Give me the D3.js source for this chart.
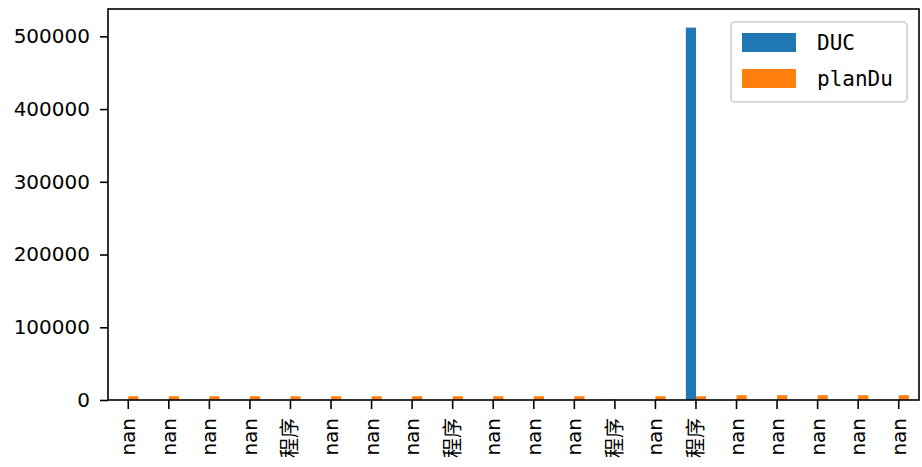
<!DOCTYPE html>
<html><head><meta charset="utf-8">
<script src="https://cdn.jsdelivr.net/npm/d3@7"></script>
<style>body{margin:0;background:#fff}svg{display:block}</style>
</head><body>
<svg id="c" width="922" height="467"></svg>
<script>
const categories = ["nan","nan","nan","nan","程序","nan","nan","nan","程序","nan","nan","nan","程序","nan","程序","nan","nan","nan","nan","nan"];
const ducValues = [null,null,null,null,null,null,null,null,null,null,null,null,600,null,512000,null,null,null,null,null];
const planDuValues = [5200,5200,5200,5200,5200,5200,5200,5200,5200,5200,5200,5200,null,5200,5200,6600,6600,6600,6600,6600];
const yTicks = [0,100000,200000,300000,400000,500000];
const seriesNames = ["DUC","planDu"];
const colors = ["#1f77b4","#ff7f0e"];

const svg = d3.select("#c");
const L=108,R=919,T=9,B=400;
const x = d3.scaleBand().domain(d3.range(categories.length)).range([L,R]).padding(0);
const yMax = d3.max([...ducValues,...planDuValues].filter(v=>v!=null))*1.05;
const y = d3.scaleLinear().domain([0,yMax]).range([B,T]);
const bw = x.bandwidth()*0.25;
const series=[ducValues,planDuValues];
series.forEach((vals,si)=>{
  svg.append("g").selectAll("rect").data(vals.map((v,i)=>({v,i})).filter(d=>d.v!=null)).join("rect")
    .attr("x",d=>x(d.i)+x.bandwidth()/2 - bw + si*bw)
    .attr("width",bw)
    .attr("y",d=>y(d.v))
    .attr("height",d=>B-y(d.v))
    .attr("fill",colors[si]);
});
// frame
svg.append("rect").attr("x",L).attr("y",T).attr("width",R-L).attr("height",B-T)
  .attr("fill","none").attr("stroke","#000").attr("stroke-width",1.6);
// y axis
const yAxis = svg.append("g").attr("transform",`translate(${L},0)`)
  .call(d3.axisLeft(y).tickValues(yTicks).tickFormat(d3.format("d")).tickSize(8).tickPadding(10));
yAxis.select(".domain").remove();
yAxis.selectAll(".tick line").attr("stroke","#000").attr("stroke-width",1.6);
yAxis.selectAll("text").attr("font-family","DejaVu Sans").attr("font-size",20).attr("fill","#000");
// x axis
const xAxis = svg.append("g").attr("transform",`translate(0,${B})`)
  .call(d3.axisBottom(x).tickFormat(i=>categories[i]).tickSize(9).tickPadding(0));
xAxis.select(".domain").remove();
xAxis.selectAll(".tick line").attr("stroke","#000").attr("stroke-width",1.6);
xAxis.selectAll("text").attr("font-family","DejaVu Sans, 'Noto Sans CJK SC'").attr("font-size",20).attr("fill","#000")
  .attr("transform","translate(0,18) rotate(-90)").attr("text-anchor","end").attr("dy","0.35em").attr("y",0).attr("x",0);
// legend
const lg = svg.append("g");
lg.append("rect").attr("x",731).attr("y",22).attr("width",176).attr("height",80).attr("rx",4)
  .attr("fill","#fff").attr("fill-opacity",0.8).attr("stroke","#ccc").attr("stroke-width",1.6);
seriesNames.forEach((n,i)=>{
  lg.append("rect").attr("x",742).attr("y",33+i*36).attr("width",54).attr("height",19).attr("fill",colors[i]);
  lg.append("text").attr("x",817).attr("y",42.5+i*36).attr("dy","0.35em").text(n)
    .attr("font-family","DejaVu Sans Mono").attr("font-size",21).attr("fill","#000");
});
</script>
</body></html>
